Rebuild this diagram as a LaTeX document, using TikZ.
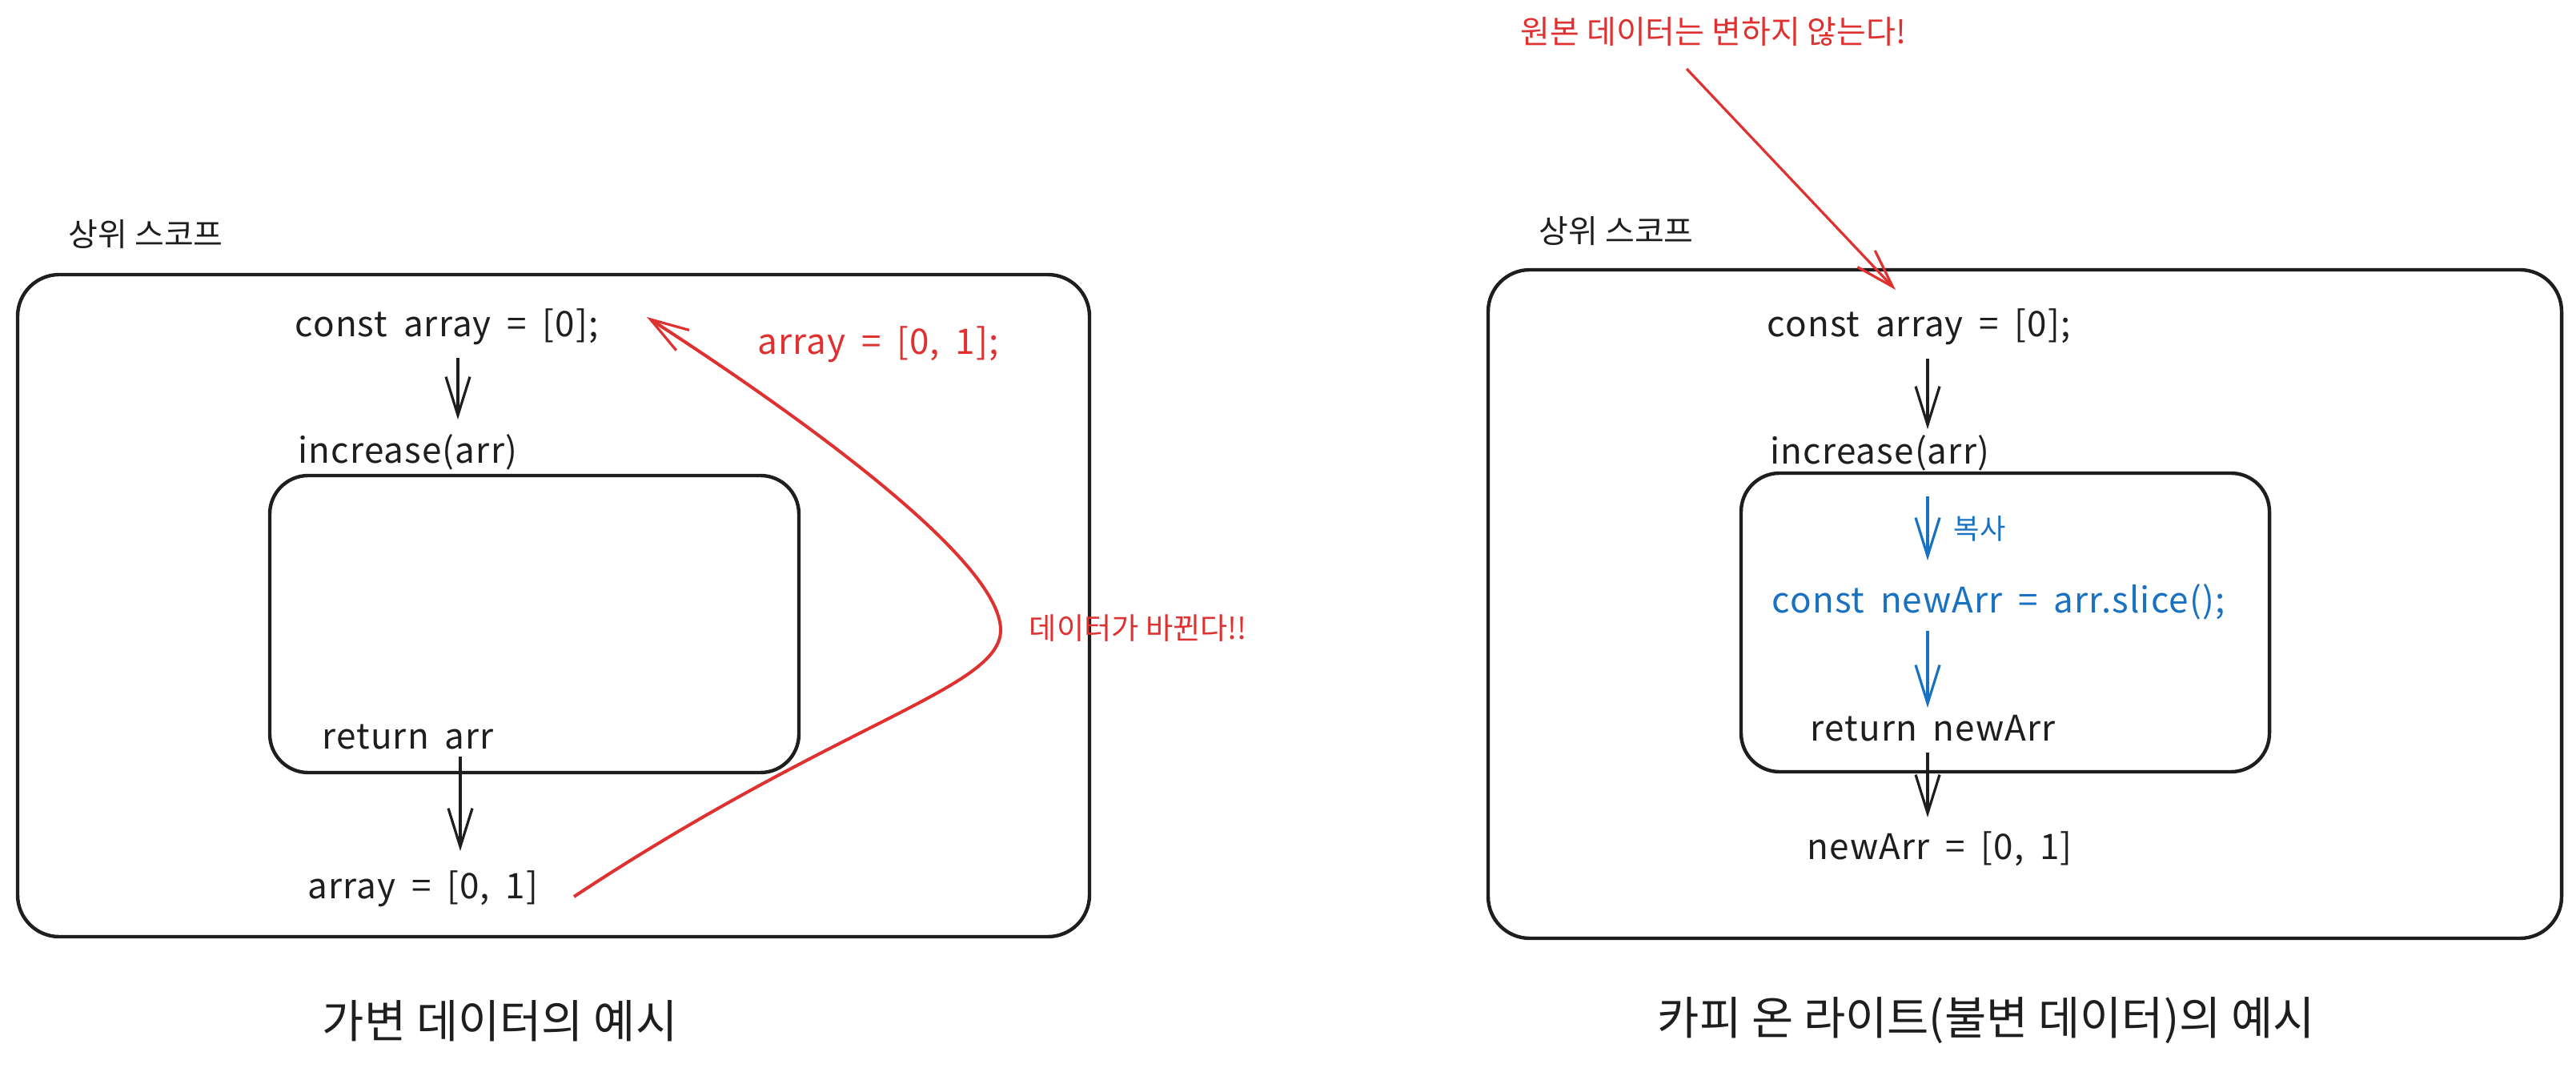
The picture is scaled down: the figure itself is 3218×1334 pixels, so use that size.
\documentclass[tikz,border=0pt]{standalone}
\usepackage{fontspec}
\setmainfont{Noto Sans CJK KR}
\newfontfamily\codefont{Noto Sans CJK KR}[WordSpace=1.8, LetterSpace=2.5]
\usetikzlibrary{arrows.meta}
\definecolor{ink}{HTML}{1E1E1E}
\definecolor{exred}{HTML}{E03131}
\definecolor{exblue}{HTML}{1971C2}
\begin{document}
\begin{tikzpicture}[x=0.25pt,y=-0.25pt,
  scopebox/.style={draw=ink, line width=1.1pt, rounded corners=13pt},
  code/.style={font=\codefont\fontsize{11}{13}\selectfont, text=ink, anchor=west, inner sep=0pt},
  lbl/.style={font=\fontsize{10}{12}\selectfont, text=ink, anchor=west, inner sep=0pt},
  bigtitle/.style={font=\fontsize{14.2}{17}\selectfont, text=ink, anchor=west, inner sep=0pt},
  flow/.style={draw=ink, line width=0.8pt, -{Straight Barb[length=12pt,width=7.5pt,line width=0.8pt]}},
  blueflow/.style={draw=exblue, line width=0.8pt, -{Straight Barb[length=12pt,width=7.5pt,line width=0.8pt]}},
  redflow/.style={draw=exred, line width=0.8pt, -{Straight Barb[length=12pt,width=7.5pt,line width=0.8pt]}}
]
\useasboundingbox (0,0) rectangle (3218,1334);
\fill[white] (0,0) rectangle (3218,1334);

% ---------------- left diagram ----------------
\node[lbl] (scopeL) at (85,293) {상위 스코프};
\draw[scopebox] (22,343) rectangle (1361,1170);
\draw[scopebox, rounded corners=12pt] (337,594) rectangle (998,965);

\node[code] (constL) at (368,408) {const array = [0];};
\node[code] (incL) at (372,565) {increase(arr)};
\node[code] (retL) at (402,920) {return arr};
\node[code] (arrL) at (384,1110) {array = [0, 1]};
\node[code, text=exred] (redArr) at (946,430) {array = [0, 1];};
\node[lbl, text=exred, font=\fontsize{9.3}{11}\selectfont] (changed) at (1285,785) {데이터가 바뀐다!!};
\node[bigtitle] (titleL) at (402,1275) {가변 데이터의 예시};

\coordinate (a1s) at (572,447);
\coordinate (a1e) at (572,524);
\coordinate (a2s) at (575,945);
\coordinate (a2e) at (575,1063);
\draw[flow] (a1s) -- (a1e);
\draw[flow, line width=1pt] (a2s) -- (a2e);

\coordinate (cs) at (717,1120);
\coordinate (ce) at (808,396);
\draw[redflow, line width=1pt] (cs) .. controls (1050,900) and (1250,860) .. (1250,787)
   .. controls (1250,700) and (1000,520) .. (ce);

% ---------------- right diagram ----------------
\node[lbl, text=exred] (orig) at (1899,40) {원본 데이터는 변하지 않는다!};
\node[lbl] (scopeR) at (1922,289) {상위 스코프};
\draw[scopebox] (1859,337) rectangle (3200,1172);
\draw[scopebox, rounded corners=12pt] (2175,591) rectangle (2835,964);

\node[code] (constR) at (2207,408) {const array = [0];};
\node[code] (incR) at (2211,566) {increase(arr)};
\node[lbl, text=exblue, font=\fontsize{8.8}{10}\selectfont] (copy) at (2440,660) {복사};
\node[code, text=exblue] (slice) at (2213,752) {const newArr = arr.slice();};
\node[code] (retR) at (2261,910) {return newArr};
\node[code] (newR) at (2257,1060) {newArr = [0, 1]};
\node[bigtitle] (titleR) at (2070,1275) {카피 온 라이트(불변 데이터)의 예시};

\coordinate (r0s) at (2107,86);
\coordinate (r0e) at (2368,362);
\draw[redflow] (r0s) -- (r0e);

\coordinate (b1s) at (2408,448);
\coordinate (b1e) at (2408,536);
\draw[flow] (b1s) -- (b1e);
\coordinate (b2s) at (2408,620);
\coordinate (b2e) at (2408,700);
\draw[blueflow] (b2s) -- (b2e);
\coordinate (b3s) at (2408,788);
\coordinate (b3e) at (2408,884);
\draw[blueflow] (b3s) -- (b3e);
\coordinate (b4s) at (2408,940);
\coordinate (b4e) at (2408,1021);
\draw[flow] (b4s) -- (b4e);
\end{tikzpicture}
\end{document}
